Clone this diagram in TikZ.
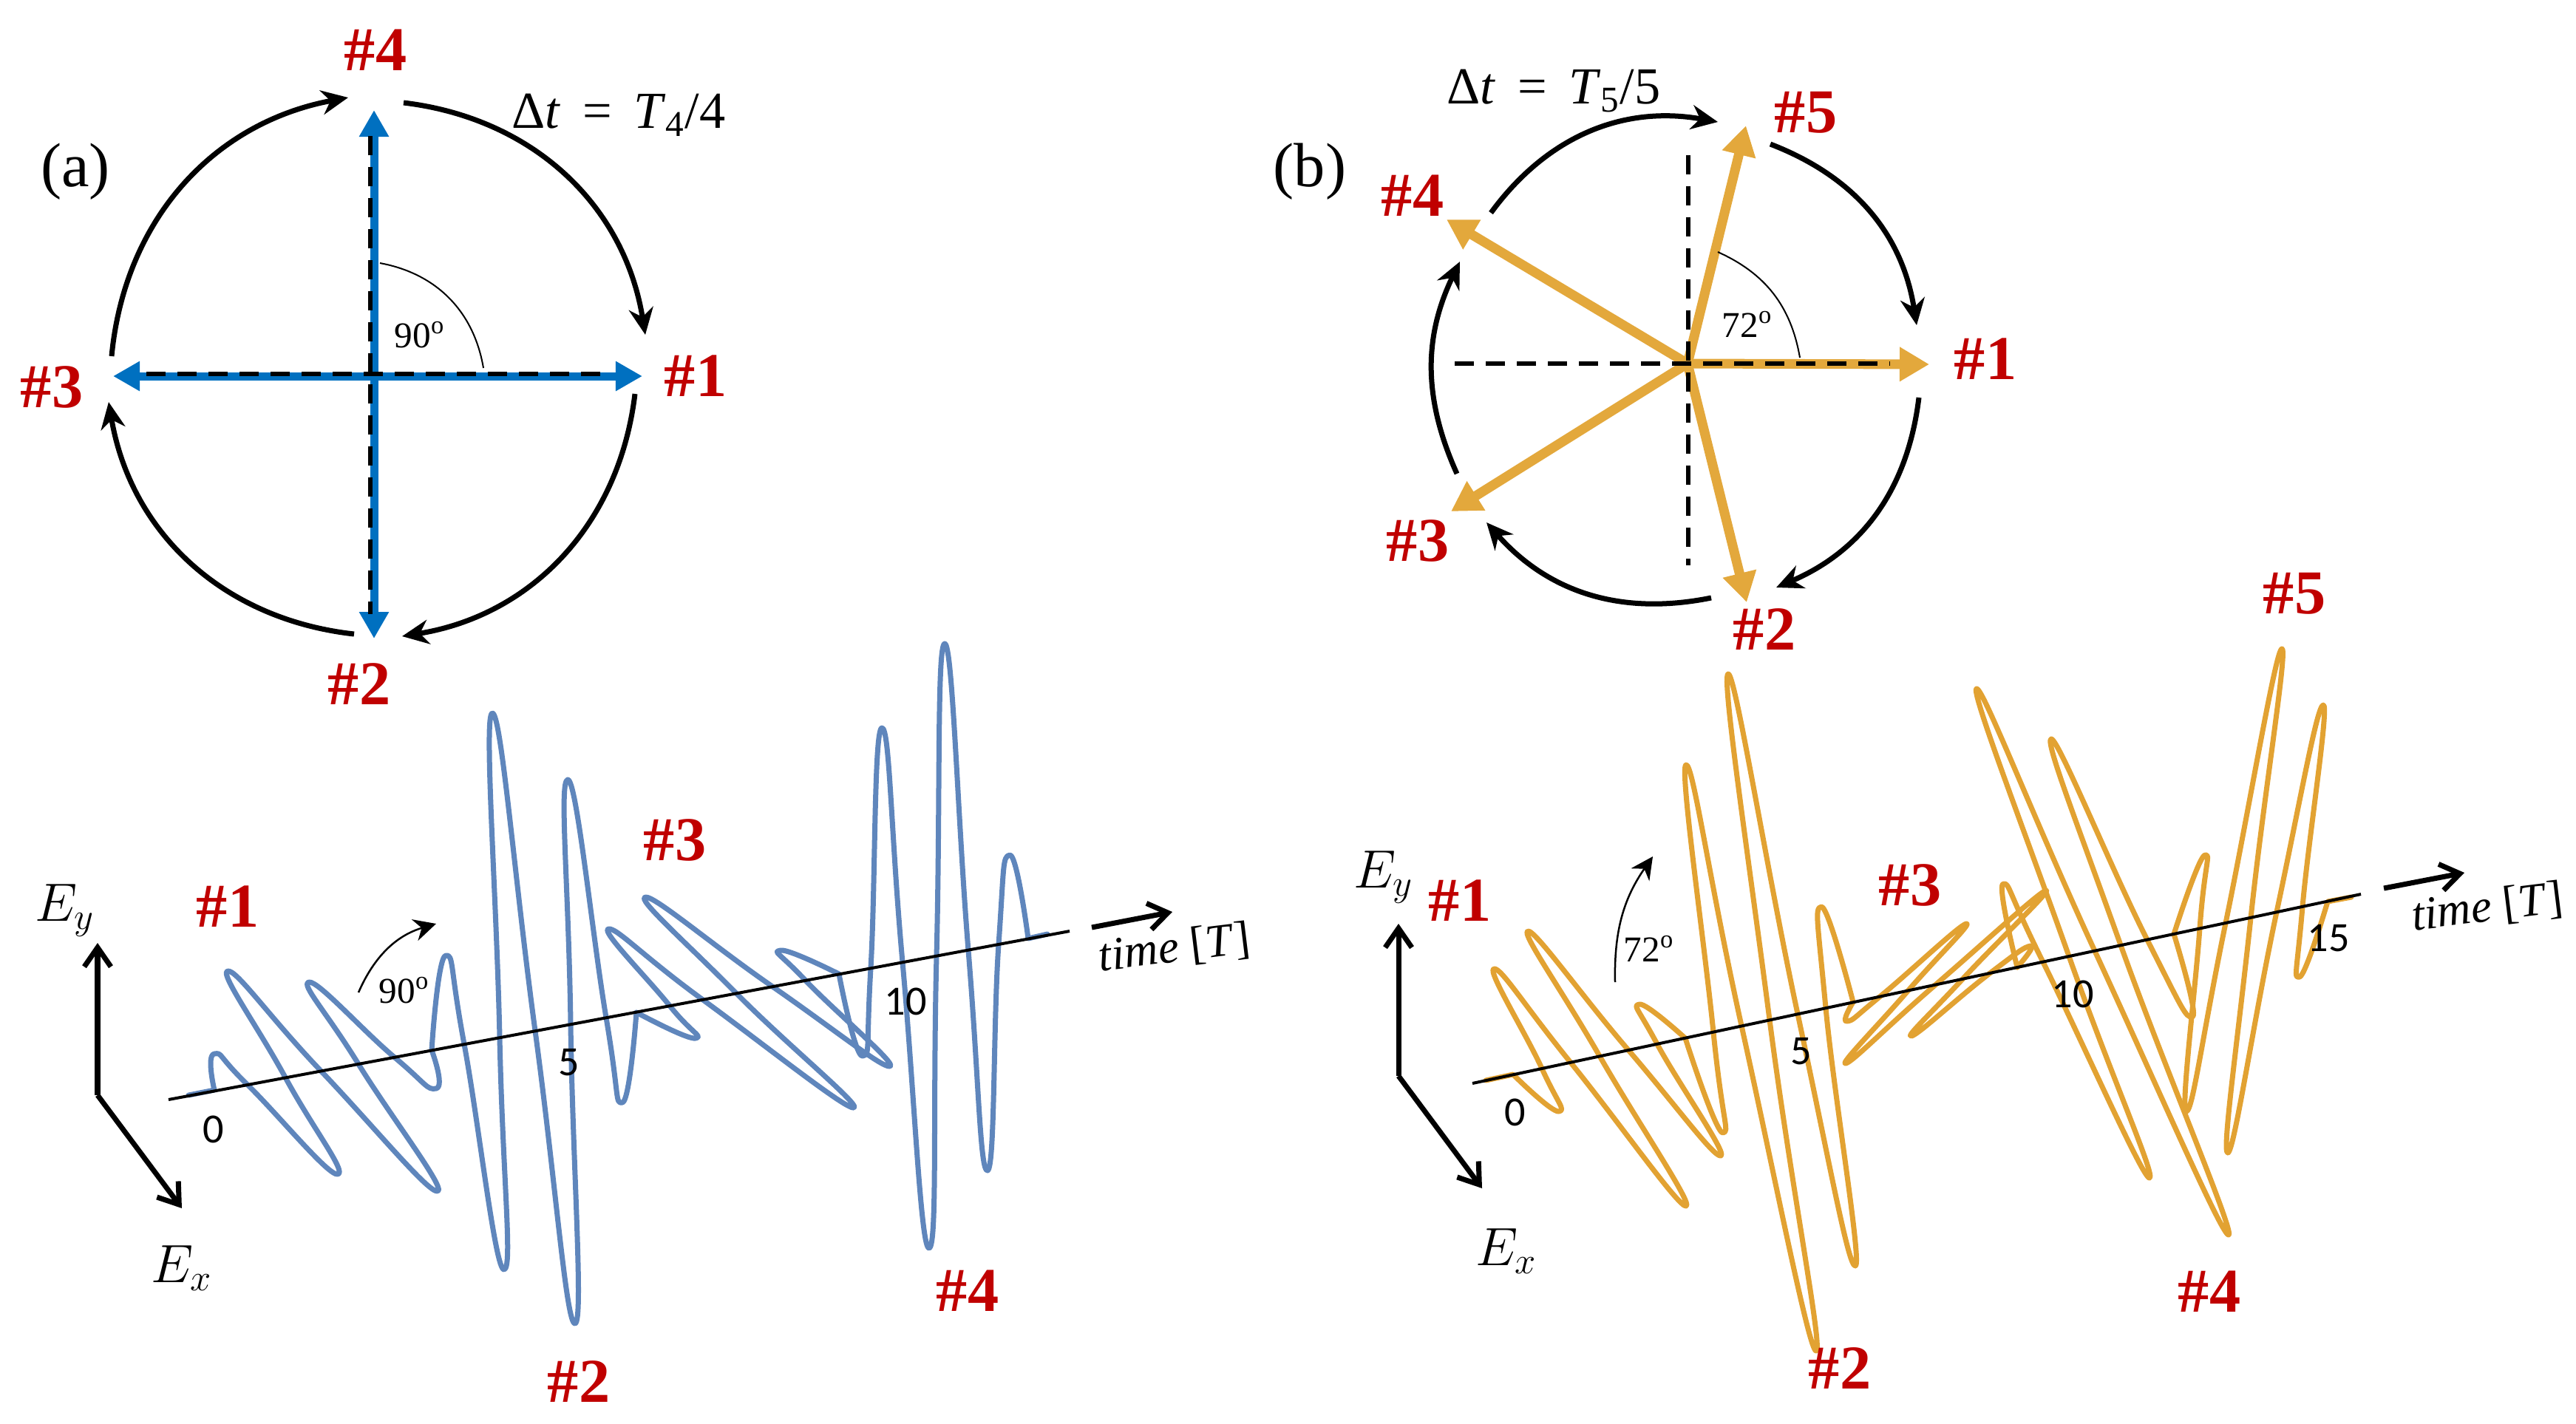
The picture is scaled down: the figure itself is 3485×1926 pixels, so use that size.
\documentclass[tikz,border=0pt]{standalone}
\usepackage{fontspec}
\setmainfont{Liberation Serif}
\newfontfamily\ticksfont{Carlito}
\usetikzlibrary{arrows.meta}
\definecolor{pulsered}{HTML}{C00000}
\definecolor{vecblue}{HTML}{0070C0}
\definecolor{vecorange}{HTML}{E3A83C}
\definecolor{waveblue}{HTML}{5F86BC}
\definecolor{waveorange}{HTML}{E2A232}
\tikzset{
  pulselabel/.style={text=pulsered,font=\bfseries\fontsize{24}{26}\selectfont,inner sep=0pt},
  panellabel/.style={font=\fontsize{24}{26}\selectfont,inner sep=0pt},
  formula/.style={font=\fontsize{20}{22}\selectfont,inner sep=0pt},
  fieldlabel/.style={font=\fontsize{20}{24}\selectfont,inner sep=0pt},
  anglelabel/.style={font=\fontsize{14}{16}\selectfont,inner sep=0pt},
  ticklabel/.style={font=\ticksfont\fontsize{16}{18}\selectfont,inner sep=0pt},
  timelabel/.style={font=\fontsize{18}{20}\selectfont,inner sep=0pt,rotate=7},
  turnarc/.style={line width=.7mm,-{Stealth[length=3.6mm,width=3.3mm]}},
  thinarc/.style={line width=.2mm},
  rotarc/.style={line width=.25mm,-{Stealth[length=3mm,width=3mm]}},
  fieldaxis/.style={line width=.7mm,-{Straight Barb[length=2.6mm,width=3.6mm]}},
  timeaxis/.style={line width=.4mm},
  guide/.style={line width=.55mm,dash pattern=on 2.6mm off 1.6mm},
  bluevec/.style={vecblue,line width=1.1mm,-{Triangle[length=3.6mm,width=3.8mm]}},
  orangevec/.style={vecorange,line width=1.3mm,-{Triangle[length=4mm,width=4.4mm]}},
  wavecurve/.style={line width=.7mm,line join=round,line cap=round},
  waveA/.style={wavecurve,waveblue},
  waveB/.style={wavecurve,waveorange}
}
\begin{document}
\begin{tikzpicture}[x=.01cm,y=-.01cm]
\useasboundingbox (0,0) rectangle (3485,1926);

% panel a, phasor
\coordinate (ca) at (506,509);
\coordinate (va1) at (869,509);
\coordinate (va2) at (506,864);
\coordinate (va3) at (153,509);
\coordinate (va4) at (506,149);
\draw[bluevec] (ca) -- (va1);
\draw[bluevec] (ca) -- (va2);
\draw[bluevec] (ca) -- (va3);
\draw[bluevec] (ca) -- (va4);
\coordinate (ga1) at (198,506);
\coordinate (ga2) at (824,506);
\coordinate (ga3) at (501,184);
\coordinate (ga4) at (501,831);
\draw[guide] (ga1) -- (ga2);
\draw[guide] (ga3) -- (ga4);

\node[pulselabel] (a1) at (941,509) {\#1};
\node[pulselabel] (a2) at (486,926) {\#2};
\node[pulselabel] (a3) at (70,524) {\#3};
\node[pulselabel] (a4) at (508,68) {\#4};
\node[panellabel] (pa) at (102,232) {(a)};
\node[formula] (dta) at (837,156) {Δ\textit{t}\, =\, \textit{T}\textsubscript{4}/4};
\node[anglelabel] (anga) at (568,453) {90\textsuperscript{o}};

\coordinate (ra1) at (546,139);
\coordinate (ra2) at (873,453);
\coordinate (ra3) at (859,533);
\coordinate (ra4) at (544,861);
\coordinate (ra5) at (479,858);
\coordinate (ra6) at (147,544);
\coordinate (ra7) at (151,482);
\coordinate (ra8) at (471,132);
\draw[turnarc] (ra1) to[bend left=37] (ra2);
\draw[turnarc] (ra3) to[bend left=37] (ra4);
\draw[turnarc] (ra5) to[bend left=37] (ra6);
\draw[turnarc] (ra7) to[bend left=37] (ra8);
\coordinate (ta1) at (514,356);
\coordinate (ta2) at (654,498);
\draw[thinarc] (ta1) to[bend left=35] (ta2);

% panel b, phasor
\coordinate (cb) at (2283,492);
\coordinate (vb1) at (2610,493);
\coordinate (vb2) at (2363,815);
\coordinate (vb3) at (1963,692);
\coordinate (vb4) at (1957,297);
\coordinate (vb5) at (2362,170);
\draw[orangevec] (cb) -- (vb1);
\draw[orangevec] (cb) -- (vb2);
\draw[orangevec] (cb) -- (vb3);
\draw[orangevec] (cb) -- (vb4);
\draw[orangevec] (cb) -- (vb5);
\coordinate (gb1) at (1968,492);
\coordinate (gb2) at (2557,492);
\coordinate (gb3) at (2284,210);
\coordinate (gb4) at (2284,765);
\draw[guide] (gb1) -- (gb2);
\draw[guide] (gb3) -- (gb4);

\node[pulselabel] (b1) at (2686,486) {\#1};
\node[pulselabel] (b2) at (2387,852) {\#2};
\node[pulselabel] (b3) at (1918,732) {\#3};
\node[pulselabel] (b4) at (1911,265) {\#4};
\node[pulselabel] (b5) at (2443,152) {\#5};
\node[panellabel] (pb) at (1772,232) {(b)};
\node[formula] (dtb) at (2102,123) {Δ\textit{t}\, =\, \textit{T}\textsubscript{5}/5};
\node[anglelabel] (angb) at (2364,439) {72\textsuperscript{o}};

\coordinate (rb1) at (2395,195);
\coordinate (rb2) at (2593,440);
\coordinate (rb3) at (2596,538);
\coordinate (rb4) at (2403,795);
\coordinate (rb5) at (2315,809);
\coordinate (rb6) at (2011,707);
\coordinate (rb7) at (1971,641);
\coordinate (rb8) at (1975,354);
\coordinate (rb9) at (2017,288);
\coordinate (rb10) at (2324,165);
\draw[turnarc] (rb1) to[bend left=30] (rb2);
\draw[turnarc] (rb3) to[bend left=30] (rb4);
\draw[turnarc] (rb5) to[bend left=30] (rb6);
\draw[turnarc] (rb7) to[bend left=25] (rb8);
\draw[turnarc] (rb9) to[bend left=32] (rb10);
\coordinate (tb1) at (2324,341);
\coordinate (tb2) at (2435,484);
\draw[thinarc] (tb1) to[bend left=28] (tb2);

% panel a, pulses
\coordinate (oa) at (132,1482);
\coordinate (eya) at (132,1276);
\coordinate (exa) at (246,1635);
\draw[fieldaxis] (oa) -- (eya);
\draw[fieldaxis] (oa) -- (exa);
\node[fieldlabel] (lya) at (88,1232) {$E_y$};
\node[fieldlabel] (lxa) at (246,1716) {$E_x$};

\draw[waveA] (255,1482) -- plot[smooth,tension=.9] coordinates {
  (290,1475) (290,1426) (335,1468) (457,1589) (386,1458) (308,1314)
  (434,1449) (592,1612) (485,1440) (418,1329) (534,1431) (590,1473) (584,1421)};
\draw[waveA] plot[smooth,tension=.9] coordinates {
  (584,1421) (603,1293) (628,1413) (682,1718) (676,1404) (666,965) (724,1395) (778,1791)
  (772,1386) (768,1055) (820,1377) (842,1492) (861,1370)};
\draw[waveA] plot[smooth,tension=.9] coordinates {
  (861,1370) (941,1405) (906,1361) (823,1257) (951,1353) (1155,1499) (996,1344) (873,1214)
  (1045,1335) (1204,1443) (1090,1327) (1056,1286) (1135,1318)};
\draw[waveA] plot[smooth,tension=.9] coordinates {
  (1135,1318) (1167,1429) (1178,1310) (1193,985) (1221,1302) (1257,1689) (1267,1294) (1278,871)
  (1310,1286) (1336,1584) (1351,1278) (1366,1157) (1391,1270)} -- (1417,1264);
\coordinate (ta0) at (228,1488);
\coordinate (taE) at (1447,1260);
\draw[timeaxis] (ta0) -- (taE);
\coordinate (tar1) at (1477,1255);
\coordinate (tar2) at (1586,1234);
\draw[fieldaxis] (tar1) -- (tar2);
\node[timelabel] (tla) at (1589,1284) {\textit{time} [\textit{T}]};
\node[ticklabel] (a0) at (289,1528) {0};
\node[ticklabel] (a5) at (770,1438) {5};
\node[ticklabel] (a10) at (1225,1355) {10};
\coordinate (rota1) at (485,1343);
\coordinate (rota2) at (590,1250);
\draw[rotarc] (rota1) to[bend left=25] (rota2);
\node[anglelabel] (rotla) at (547,1340) {90\textsuperscript{o}};
\node[pulselabel] (wa1) at (308,1227) {\#1};
\node[pulselabel] (wa2) at (783,1870) {\#2};
\node[pulselabel] (wa3) at (913,1137) {\#3};
\node[pulselabel] (wa4) at (1309,1747) {\#4};

% panel b, pulses
\coordinate (ob) at (1892,1456);
\coordinate (eyb) at (1892,1250);
\coordinate (exb) at (2005,1608);
\draw[fieldaxis] (ob) -- (eyb);
\draw[fieldaxis] (ob) -- (exb);
\node[fieldlabel] (lyb) at (1872,1187) {$E_y$};
\node[fieldlabel] (lxb) at (2038,1693) {$E_x$};

\draw[waveB] (2010,1462) -- plot[smooth,tension=.9] coordinates {
  (2047,1454) (2109,1504) (2086,1446) (2021,1311) (2125,1438) (2281,1632)
  (2164,1429) (2067,1260) (2203,1421) (2328,1564) (2242,1413) (2218,1359) (2280,1405)};
\draw[waveB] plot[smooth,tension=.9] coordinates {
  (2280,1405) (2331,1533) (2318,1397) (2281,1035) (2356,1388) (2457,1828) (2394,1380) (2338,912)
  (2432,1372) (2510,1713) (2470,1364) (2464,1227) (2507,1356)};
\draw[waveB] plot[smooth,tension=.9] coordinates {
  (2507,1356) (2499,1382) (2544,1348) (2660,1250) (2581,1341) (2497,1439) (2618,1333) (2768,1205)
  (2655,1325) (2586,1402) (2692,1317) (2747,1280) (2729,1309)};
\draw[waveB] plot[smooth,tension=.9] coordinates {
  (2729,1309) (2710,1196) (2764,1302) (2908,1594) (2799,1294) (2674,932) (2834,1287) (3015,1671)
  (2869,1279) (2775,1000) (2905,1272) (2966,1376) (2941,1264)};
\draw[waveB] plot[smooth,tension=.9] coordinates {
  (2941,1264) (2983,1157) (2976,1256) (2958,1504) (3011,1249) (3087,878) (3045,1242) (3014,1560)
  (3080,1234) (3143,954) (3115,1227) (3111,1322) (3149,1220)} -- (3181,1214);
\coordinate (tb0) at (1992,1466);
\coordinate (tbE) at (3194,1210);
\draw[timeaxis] (tb0) -- (tbE);
\coordinate (tbr1) at (3225,1202);
\coordinate (tbr2) at (3334,1181);
\draw[fieldaxis] (tbr1) -- (tbr2);
\node[timelabel] (tlb) at (3365,1229) {\textit{time} [\textit{T}]};
\node[ticklabel] (b0) at (2050,1505) {0};
\node[ticklabel] (b5) at (2437,1423) {5};
\node[ticklabel] (b10) at (2804,1345) {10};
\node[ticklabel] (b15) at (3150,1270) {15};
\coordinate (rotb1) at (2185,1329);
\coordinate (rotb2) at (2236,1159);
\draw[rotarc] (rotb1) to[bend left=18] (rotb2);
\node[anglelabel] (rotlb) at (2231,1284) {72\textsuperscript{o}};
\node[pulselabel] (wb1) at (1975,1219) {\#1};
\node[pulselabel] (wb2) at (2489,1852) {\#2};
\node[pulselabel] (wb3) at (2584,1198) {\#3};
\node[pulselabel] (wb4) at (2989,1748) {\#4};
\node[pulselabel] (wb5) at (3104,803) {\#5};

\end{tikzpicture}
\end{document}
